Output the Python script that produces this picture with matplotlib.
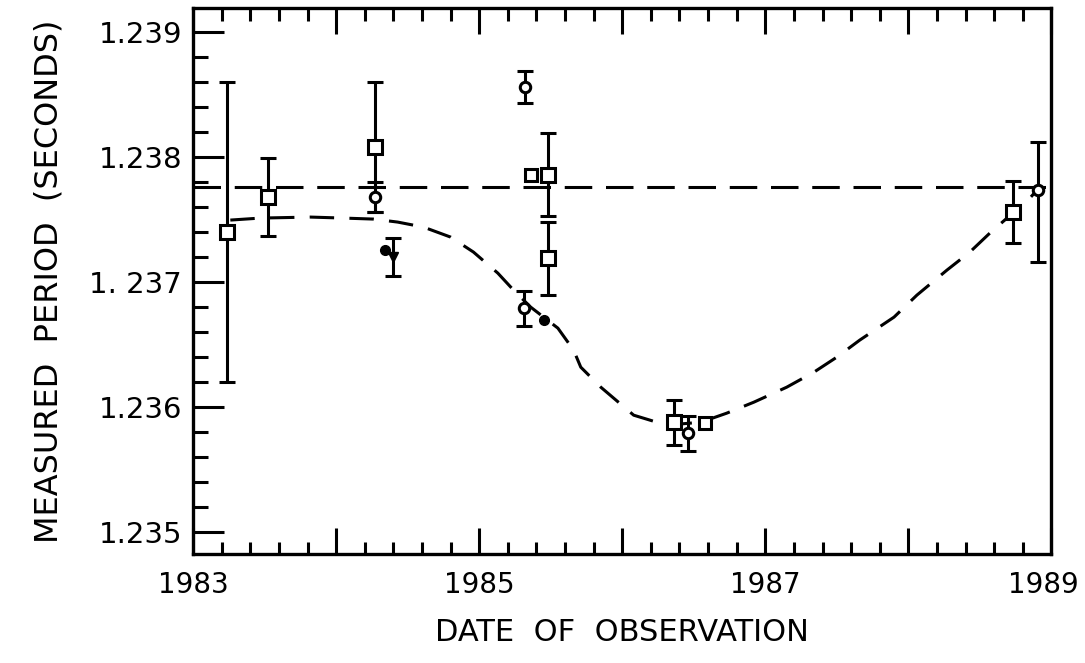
import matplotlib
matplotlib.use("Agg")
import matplotlib.pyplot as plt
import matplotlib.transforms as mtransforms
from matplotlib.ticker import MultipleLocator, FixedLocator, FixedFormatter

# squares with error bars
sq_x = [1983.24, 1983.52, 1984.27, 1985.48, 1985.48, 1986.36, 1988.73]
sq_y = [1.23740, 1.23768, 1.23808, 1.23786, 1.23719, 1.23588, 1.23756]
sq_err = [0.00120, 0.00031, 0.00052, 0.00033, 0.00029, 0.00018, 0.00025]

# squares without error bars
sq2_x = [1985.36, 1986.58]
sq2_y = [1.23786, 1.23587]

# circles with error bars
ci_x = [1984.27, 1985.32, 1985.31, 1986.46, 1988.91]
ci_y = [1.23768, 1.23856, 1.23679, 1.23579, 1.23774]
ci_err_lo = [0.00012, 0.00013, 0.00014, 0.00014, 0.00058]
ci_err_hi = [0.00012, 0.00013, 0.00014, 0.00014, 0.00038]

# circles without error bars
ci2_x = [1984.34, 1985.45]
ci2_y = [1.23726, 1.23670]

# triangle point
tr_x = [1984.40]
tr_y = [1.23720]
tr_err = [0.00015]

# constant period (dashed line)
const_period = 1.23776

# dashed fitted curve
curve_x = [1983.26, 1983.47, 1983.82, 1984.05, 1984.26, 1984.43, 1984.61, 1984.80,
           1984.96, 1985.13, 1985.24, 1985.36, 1985.55, 1985.66, 1985.71, 1985.85,
           1986.08, 1986.31, 1986.55, 1986.73, 1986.92, 1987.15, 1987.34, 1987.50,
           1987.66, 1987.90, 1988.06, 1988.27, 1988.43, 1988.57, 1988.85, 1988.90]
curve_y = [1.237496, 1.237512, 1.237520, 1.237512, 1.237504, 1.237480, 1.237440, 1.237360,
           1.237240, 1.237072, 1.236936, 1.236800, 1.236632, 1.236456, 1.236320, 1.236160,
           1.235936, 1.235856, 1.235880, 1.235952, 1.236040, 1.236160, 1.236280, 1.236400,
           1.236536, 1.236720, 1.236896, 1.237096, 1.237240, 1.237392, 1.237672, 1.237736]

xtick_labels = ['1983', '1985', '1987', '1989']
yticks = [1.235, 1.236, 1.237, 1.238, 1.239]
ytick_labels = ['1.235', '1.236', '1. 237', '1.238', '1.239']

fig = plt.figure(figsize=(10.85, 6.63), dpi=100)
ax = fig.add_axes([0.178, 0.164, 0.791, 0.824])

ax.plot([1983, 1989], [const_period, const_period], color='black', lw=2.2,
        dashes=(9, 4.5))
ax.plot(curve_x, curve_y, color='black', lw=2.2, dashes=(8, 5))

ax.errorbar(sq_x, sq_y, yerr=sq_err, fmt='s', ms=10, mfc='white', mec='black',
            mew=2.2, ecolor='black', elinewidth=2.2, capsize=6, capthick=2.2, zorder=3)
ax.plot(sq2_x, sq2_y, 's', ms=9, mfc='white', mec='black', mew=2.2, zorder=3)
ax.errorbar(ci_x, ci_y, yerr=[ci_err_lo, ci_err_hi], fmt='o', ms=7.5, mfc='white',
            mec='black', mew=2.2, ecolor='black', elinewidth=2.2, capsize=6,
            capthick=2.2, zorder=3)
ax.plot(ci2_x, ci2_y, 'o', ms=7, mfc='black', mec='black', zorder=3)
ax.errorbar(tr_x, tr_y, yerr=tr_err, fmt='v', ms=7, mfc='black', mec='black',
            ecolor='black', elinewidth=2.2, capsize=6, capthick=2.2, zorder=3)

ax.set_xlim(1983, 1989)
ax.set_ylim(1.234824, 1.239192)

ax.xaxis.set_minor_locator(MultipleLocator(0.2))
ax.set_xticks(range(1983, 1990))
ax.set_xticklabels([str(y) if str(y) in xtick_labels else '' for y in range(1983, 1990)])
ax.yaxis.set_major_locator(FixedLocator(yticks))
ax.yaxis.set_major_formatter(FixedFormatter(ytick_labels))
ax.yaxis.set_minor_locator(MultipleLocator(0.0002))

ax.tick_params(axis='both', which='both', direction='in', width=2.2, color='black')
ax.tick_params(axis='y', which='major', length=22, labelsize=21, pad=8, right=False)
ax.tick_params(axis='y', which='minor', length=11, right=False)
ax.tick_params(axis='x', which='major', length=19, labelsize=20, pad=12, top=True)
ax.tick_params(axis='x', which='minor', length=9, top=True)

# nudge the last year label inward so it stays on the page
last = ax.get_xticklabels()[-1]
last.set_transform(last.get_transform() +
                   mtransforms.ScaledTranslation(-8 / 100, 0, fig.dpi_scale_trans))

for s in ax.spines.values():
    s.set_linewidth(2.4)

ax.set_xlabel('DATE  OF  OBSERVATION', fontsize=22, labelpad=14)
ax.set_ylabel('MEASURED  PERIOD  (SECONDS)', fontsize=23, labelpad=18)

fig.savefig('out.png', dpi=100)
